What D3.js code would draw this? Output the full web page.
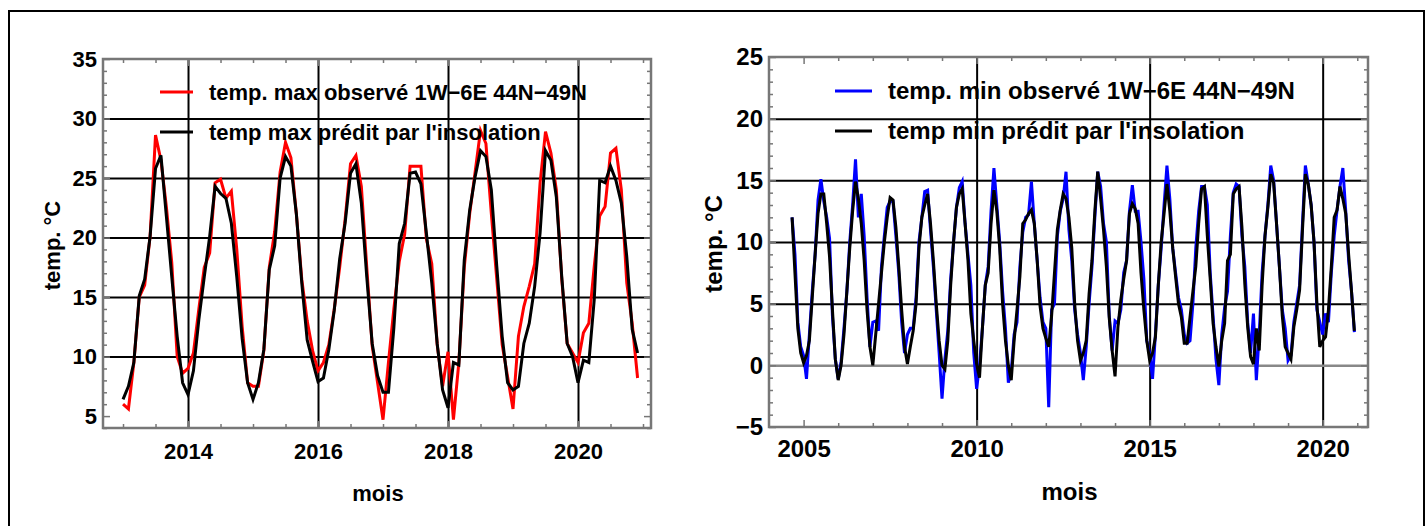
<!DOCTYPE html>
<html>
<head>
<meta charset="utf-8">
<script src="https://cdn.jsdelivr.net/npm/d3@7"></script>
<style>
  body { margin: 0; background: #fff; }
  svg text { font-family: "Liberation Sans", Arial, sans-serif; font-weight: bold; fill: #000; }
</style>
</head>
<body>
<svg id="chart" width="1426" height="526"></svg>
<script>
// Monthly max temperatures, Jan 2013 - Dec 2020 (one row per year)
const maxStart = 2013;
const maxObserved = [
  6.0, 5.6, 9.5, 15.0, 16.0, 20.1, 28.6, 26.5, 22.6, 17.9, 10.0, 8.6,
  9.0, 10.3, 14.0, 17.5, 18.7, 24.6, 24.9, 23.3, 23.9, 19.0, 12.5, 7.8,
  7.5, 7.5, 10.5, 17.5, 20.5, 25.5, 28.0, 26.7, 22.0, 16.5, 13.0, 10.5,
  8.8, 9.5, 11.0, 14.0, 17.5, 21.5, 26.2, 26.9, 24.3, 17.5, 10.9, 7.8,
  4.7, 9.5, 14.0, 18.0, 20.3, 26.0, 26.0, 26.0, 19.9, 17.8, 11.0, 7.5,
  10.4, 4.7, 9.5, 17.5, 22.0, 25.5, 29.0, 27.9, 22.0, 16.5, 11.0, 8.3,
  5.6, 11.7, 14.2, 15.9, 17.8, 24.6, 28.9, 27.1, 24.0, 16.5, 11.1, 10.3,
  9.5, 12.0, 12.8, 17.6, 21.8, 22.6, 27.1, 27.5, 24.0, 16.2, 12.8, 8.2
];
const maxPredicted = [
  6.4, 7.5, 9.5, 15.1, 16.5, 20.1, 25.8, 26.9, 21.8, 16.7, 11.7, 7.8,
  6.8, 8.8, 13.1, 16.7, 20.1, 24.3, 23.7, 23.3, 21.2, 16.7, 11.5, 7.8,
  6.4, 7.8, 10.6, 17.3, 19.3, 25.0, 26.8, 26.0, 22.0, 16.2, 11.4, 9.6,
  7.9, 8.2, 10.6, 13.9, 18.2, 21.2, 25.4, 26.2, 22.9, 16.7, 11.1, 8.4,
  7.0, 7.0, 12.4, 19.5, 21.2, 25.4, 25.5, 24.5, 20.4, 16.2, 11.1, 7.2,
  5.7, 9.5, 9.3, 18.1, 22.3, 25.1, 27.3, 26.8, 24.0, 17.6, 11.7, 7.8,
  7.2, 7.5, 11.1, 12.8, 15.9, 20.4, 27.3, 26.5, 23.4, 16.7, 11.1, 10.0,
  7.8, 9.7, 9.5, 14.8, 24.8, 24.6, 26.0, 24.8, 22.9, 18.4, 12.3, 10.3
];

// Monthly min temperatures, Sep 2004 - Dec 2020
const minStart = 2004 + 8 / 12;
const minObserved = [
  12.0, 9.0, 3.5, 1.5,
  0.8, -1.1, 2.5, 6.0, 9.0, 13.4, 15.1, 13.3, 12.0, 10.3, 4.0, 0.5,
  -1.1, 0.3, 3.0, 6.0, 10.0, 13.0, 16.7, 12.0, 13.9, 10.5, 5.5, 1.5,
  3.5, 3.6, 2.8, 8.0, 10.5, 12.8, 13.3, 13.3, 10.5, 7.5, 3.5, 1.0,
  2.5, 3.0, 3.0, 5.5, 10.0, 12.0, 14.1, 14.2, 11.0, 8.0, 4.5, 1.0,
  -2.7, 0.5, 2.8, 7.0, 10.0, 12.8, 14.4, 14.9, 11.5, 9.0, 6.5, 1.0,
  -1.9, 0.0, 3.0, 6.5, 8.0, 12.5, 16.0, 13.0, 10.0, 6.0, 3.0, -1.4,
  -0.5, 2.5, 3.5, 8.0, 10.8, 12.0, 12.2, 14.9, 11.5, 8.5, 5.5, 3.5,
  3.0, -3.4, 4.5, 5.0, 10.5, 12.5, 13.5, 15.7, 11.0, 8.5, 4.5, 2.5,
  1.0, -1.2, 1.5, 5.0, 8.0, 12.0, 15.7, 14.5, 11.5, 10.0, 4.0, 1.2,
  3.6, 3.4, 4.5, 7.5, 8.5, 12.5, 14.6, 12.5, 12.5, 10.0, 7.0, 2.0,
  1.0, -1.1, 2.5, 6.5, 9.5, 13.0, 16.2, 13.5, 9.5, 7.5, 5.5, 4.5,
  2.5, 1.8, 2.0, 5.0, 9.5, 12.5, 14.5, 14.5, 13.0, 7.5, 4.0, 0.5,
  -1.6, 2.5, 4.7, 6.0, 10.5, 14.0, 14.7, 14.5, 10.5, 8.0, 3.5, 1.0,
  4.2, -1.2, 2.5, 7.5, 10.5, 13.0, 16.2, 15.0, 11.5, 8.0, 4.5, 3.0,
  0.4, 0.8, 3.5, 5.0, 6.5, 11.5, 16.2, 14.7, 13.0, 10.0, 4.5, 3.5,
  2.5, 4.2, 3.5, 7.5, 10.5, 12.6, 14.5, 16.0, 12.5, 8.5, 6.0, 2.7
];
const minPredicted = [
  12.0, 7.5, 3.0, 1.0,
  0.2, 0.8, 2.0, 5.5, 9.0, 12.3, 13.9, 13.9, 11.5, 8.8, 4.5, 0.5,
  -1.2, 0.0, 2.5, 6.0, 9.5, 12.5, 14.9, 13.5, 11.5, 8.5, 4.5, 1.5,
  0.0, 2.5, 5.0, 7.5, 10.0, 12.0, 13.6, 13.4, 11.2, 8.0, 4.5, 1.5,
  0.1, 1.5, 2.8, 5.0, 9.5, 12.0, 13.0, 13.9, 11.5, 8.5, 5.0, 2.0,
  0.0, -0.3, 2.0, 6.5, 10.0, 12.8, 13.9, 14.3, 11.5, 8.5, 4.2, 2.0,
  0.1, -1.0, 3.0, 6.5, 7.5, 11.5, 14.2, 12.5, 9.5, 5.0, 2.0, 0.0,
  -1.2, 2.0, 4.5, 7.2, 11.5, 11.8, 12.3, 12.6, 11.5, 8.5, 4.8, 3.0,
  2.2, 1.5, 4.0, 7.5, 11.0, 12.6, 13.9, 13.5, 12.0, 9.5, 5.0, 2.0,
  0.4, 1.0, 2.0, 5.8, 8.5, 12.5, 15.7, 13.5, 11.0, 8.0, 3.8, 1.2,
  -0.9, 3.1, 5.3, 7.0, 8.5, 12.3, 13.1, 12.7, 11.5, 7.5, 4.5, 2.0,
  0.4, 1.0, 2.3, 6.5, 10.0, 12.3, 14.7, 12.5, 9.5, 7.2, 5.0, 3.9,
  1.8, 1.8, 3.9, 6.0, 8.0, 11.5, 14.3, 14.5, 10.5, 7.0, 3.4, 1.5,
  -0.1, 2.0, 3.4, 8.5, 9.0, 13.9, 14.3, 14.5, 11.2, 6.6, 3.1, 0.7,
  0.1, 3.0, 1.2, 6.5, 10.5, 12.8, 15.5, 14.8, 11.5, 8.0, 4.0, 1.5,
  1.0, 0.5, 3.1, 4.5, 6.1, 11.0, 15.5, 14.7, 13.0, 10.0, 5.0, 1.5,
  2.0, 2.3, 4.5, 8.0, 12.0, 12.6, 14.5, 13.5, 12.3, 9.0, 6.0, 2.8
];

const maxLegend = ["temp. max observé 1W\u22126E 44N\u221249N", "temp max prédit par l'insolation"];
const minLegend = ["temp. min observé 1W\u22126E 44N\u221249N", "temp min prédit par l'insolation"];
const maxYearLabels = [2014, 2016, 2018, 2020];
const minYearLabels = [2005, 2010, 2015, 2020];
const maxTempLabels = [5, 10, 15, 20, 25, 30, 35];
const minTempLabels = [-5, 0, 5, 10, 15, 20, 25];

const svg = d3.select("#chart");
const fmt = d => String(d).replace("-", "\u2212");

// outer frame (bottom edge runs off the picture)
svg.append("rect")
  .attr("x", 9).attr("y", 11).attr("width", 1415).attr("height", 560)
  .attr("fill", "none").attr("stroke", "#000").attr("stroke-width", 2);

function series(values, start) {
  return values.map((v, i) => ({ t: start + i / 12, v }));
}

function drawPanel(p) {
  const x = d3.scaleLinear().domain(p.xDomain).range([p.left, p.right]);
  const y = d3.scaleLinear().domain(p.yDomain).range([p.bottom, p.top]);
  const w = p.right - p.left, h = p.bottom - p.top;
  const fs = p.fontSize;
  const g = svg.append("g");

  // grid lines
  g.append("g").attr("transform", `translate(0,${p.bottom})`)
    .call(d3.axisBottom(x).tickValues(p.xGrid).tickSize(-h).tickFormat(""))
    .call(a => a.select(".domain").remove())
    .selectAll("line").attr("stroke", "#000").attr("stroke-width", 2);
  g.append("g").attr("transform", `translate(${p.left},0)`)
    .call(d3.axisLeft(y).tickValues(p.yGrid).tickSize(-w).tickFormat(""))
    .call(a => a.select(".domain").remove())
    .selectAll("line")
    .attr("stroke", d => d === 0 ? "#888" : "#000")
    .attr("stroke-width", d => d === 0 ? 2.5 : 2);

  // minor / major ticks pointing inward on all four sides
  const xTicks = d3.range(p.xTickFrom, p.xDomain[1], p.xTickStep);
  const yTicks = d3.range(Math.ceil(p.yDomain[0]), p.yDomain[1] + 0.01, 1);
  const tickLen = (d, step) => (Math.abs(d / step - Math.round(d / step)) < 1e-6 ? 7 : 4);
  [d3.axisBottom, d3.axisTop].forEach(ax => {
    const a = g.append("g").attr("transform", `translate(0,${ax === d3.axisBottom ? p.bottom : p.top})`)
      .call(ax(x).tickValues(xTicks).tickSize(0).tickFormat(""));
    a.select(".domain").remove();
    a.selectAll(".tick line")
      .attr("y2", d => (ax === d3.axisBottom ? -1 : 1) * tickLen(d - p.xMajorBase, p.xMajorStep))
      .attr("stroke", "#777").attr("stroke-width", 1.5);
  });
  [d3.axisLeft, d3.axisRight].forEach(ax => {
    const a = g.append("g").attr("transform", `translate(${ax === d3.axisLeft ? p.left : p.right},0)`)
      .call(ax(y).tickValues(yTicks).tickSize(0).tickFormat(""));
    a.select(".domain").remove();
    a.selectAll(".tick line")
      .attr("x2", d => (ax === d3.axisLeft ? 1 : -1) * tickLen(d, 5))
      .attr("stroke", "#777").attr("stroke-width", 1.5);
  });

  // frame
  g.append("rect")
    .attr("x", p.left).attr("y", p.top).attr("width", w).attr("height", h)
    .attr("fill", "none").attr("stroke", "#777").attr("stroke-width", 2.5);

  // tick labels
  g.append("g").attr("transform", `translate(0,${p.bottom})`)
    .call(d3.axisBottom(x).tickValues(p.xLabels).tickSize(0).tickPadding(p.xLabelPad).tickFormat(d3.format("d")))
    .call(a => a.select(".domain").remove())
    .attr("font-family", null).attr("font-size", fs);
  g.append("g").attr("transform", `translate(${p.left},0)`)
    .call(d3.axisLeft(y).tickValues(p.yLabels).tickSize(0).tickPadding(6).tickFormat(fmt))
    .call(a => a.select(".domain").remove())
    .attr("font-family", null).attr("font-size", fs);

  // axis titles
  g.append("text")
    .attr("transform", `translate(${p.yTitleX},${(p.top + p.bottom) / 2 + 2}) rotate(-90)`)
    .attr("text-anchor", "middle").attr("font-size", fs).text("temp. °C");
  g.append("text")
    .attr("x", (p.left + p.right) / 2 + 1).attr("y", p.xTitleY)
    .attr("text-anchor", "middle").attr("font-size", fs).text("mois");

  // data lines
  const line = d3.line().x(d => x(d.t)).y(d => y(d.v));
  p.lines.forEach(s => {
    g.append("path").datum(series(s.values, p.start))
      .attr("fill", "none").attr("stroke", s.color).attr("stroke-width", 3)
      .attr("stroke-linejoin", "miter").attr("d", line);
  });

  // legend
  p.lines.forEach((s, i) => {
    const ly = p.legendY + i * 40;
    g.append("line")
      .attr("x1", p.legendX).attr("x2", p.legendX + p.legendLen)
      .attr("y1", ly).attr("y2", ly)
      .attr("stroke", s.color).attr("stroke-width", 3);
    g.append("text")
      .attr("x", p.legendX + p.legendLen + 16).attr("y", ly + 8)
      .attr("font-size", fs).text(p.legend[i]);
  });
}

drawPanel({
  left: 103, right: 651, top: 59, bottom: 428, fontSize: 22,
  xDomain: [2012.692, 2021.123], yDomain: [4.0, 35],
  xGrid: maxYearLabels, yGrid: [10, 15, 20, 25, 30],
  xLabels: maxYearLabels, yLabels: maxTempLabels, xLabelPad: 15,
  xTickFrom: 2013, xTickStep: 0.5, xMajorBase: 2014, xMajorStep: 2,
  yTitleX: 60, xTitleY: 501,
  start: maxStart,
  lines: [{ values: maxObserved, color: "#ff0000" }, { values: maxPredicted, color: "#000" }],
  legend: maxLegend, legendX: 160, legendLen: 33, legendY: 92
});

drawPanel({
  left: 769, right: 1368, top: 57, bottom: 427, fontSize: 24,
  xDomain: [2004.0, 2021.31], yDomain: [-5, 25],
  xGrid: [2010, 2015, 2020], yGrid: [0, 5, 10, 15, 20],
  xLabels: minYearLabels, yLabels: minTempLabels, xLabelPad: 13,
  xTickFrom: 2005, xTickStep: 1, xMajorBase: 2005, xMajorStep: 5,
  yTitleX: 722, xTitleY: 500,
  start: minStart,
  lines: [{ values: minObserved, color: "#0000ff" }, { values: minPredicted, color: "#000" }],
  legend: minLegend, legendX: 835, legendLen: 37, legendY: 91
});
</script>
</body>
</html>
